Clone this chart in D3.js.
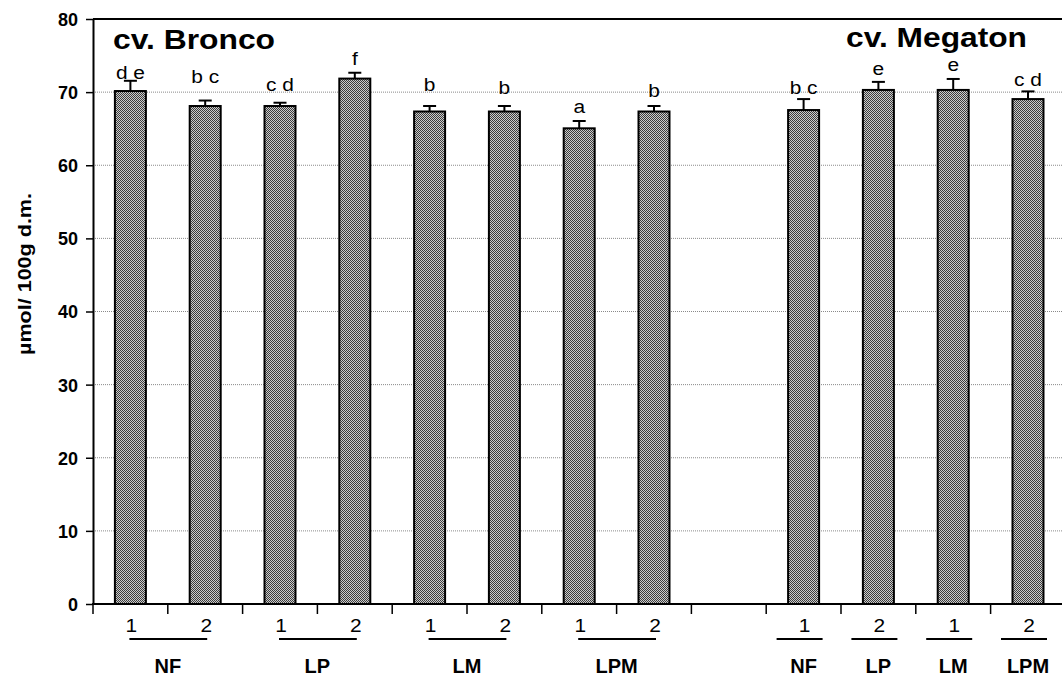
<!DOCTYPE html>
<html>
<head>
<meta charset="utf-8">
<script src="https://cdn.jsdelivr.net/npm/d3@7"></script>
<style>
  html, body { margin: 0; padding: 0; background: #fff; }
  text { font-family: Arial, "Liberation Sans", sans-serif; fill: #000; }
</style>
</head>
<body>
<svg id="chart" width="1062" height="676"></svg>
<script>
// ---------------- data ----------------
const slots     = ["B-NF-1","B-NF-2","B-LP-1","B-LP-2","B-LM-1","B-LM-2","B-LPM-1","B-LPM-2","gap","M-NF-1","M-LP-2","M-LM-1","M-LPM-2"];
const subLabels = ["1","2","1","2","1","2","1","2","","1","2","1","2"];
const means     = [70.15, 68.1, 68.1, 71.85, 67.35, 67.35, 65.05, 67.35, null, 67.55, 70.3, 70.3, 69.05];
const errors    = [1.4, 0.75, 0.45, 0.8, 0.75, 0.75, 1.0, 0.75, null, 1.5, 1.1, 1.5, 1.05];
const letters   = ["d e","b c","c d","f","b","b","a","b","","b c","e","e","c d"];
const letterAt  = [71.8, 71.25, 70.2, 73.7, 70.2, 69.8, 67.1, 69.4, null, 69.8, 72.3, 72.9, 70.9];
const groupNames = ["NF","LP","LM","LPM","NF","LP","LM","LPM"];
const groupSlots = [[0,1],[2,3],[4,5],[6,7],[9],[10],[11],[12]];
const yTicks    = [0,10,20,30,40,50,60,70,80];
const gridTicks = [10,20,30,40,50,60,70];
const titles    = ["cv. Bronco","cv. Megaton"];
const yLabel    = "µmol/ 100g d.m.";

// ---------------- layout ----------------
const W = 1062, H = 676;
const mLeft = 93, mTop = 19, mBottom = 604, slotW = 74.8;
const sx = 1.1; // horizontal text stretch of the original

const svg = d3.select("#chart");
const x = d3.scaleBand().domain(slots).range([mLeft, mLeft + slots.length * slotW]).padding(0);
const y = d3.scaleLinear().domain([0, 80]).range([mBottom, mTop]);
const cx = i => x(slots[i]) + x.bandwidth() / 2;
const barW = 31;

// pattern
const defs = svg.append("defs");
const pat = defs.append("pattern").attr("id", "chk").attr("patternUnits", "userSpaceOnUse")
  .attr("width", 2).attr("height", 2);
pat.append("rect").attr("width", 2).attr("height", 2).attr("fill", "#cccccc");
pat.append("rect").attr("x", 0).attr("y", 0).attr("width", 1).attr("height", 1).attr("fill", "#3c3c3c");
pat.append("rect").attr("x", 1).attr("y", 1).attr("width", 1).attr("height", 1).attr("fill", "#3c3c3c");

function stext(g, str, px, py, opts) {
  return g.append("text")
    .attr("transform", `translate(${px},${py}) scale(${opts.sx || sx},1)`)
    .attr("text-anchor", opts.anchor || "middle")
    .attr("font-size", opts.size)
    .attr("font-weight", opts.weight || "normal")
    .text(str);
}

// gridlines
svg.append("g").selectAll("line").data(gridTicks).join("line")
  .attr("x1", mLeft).attr("x2", W)
  .attr("y1", d => y(d)).attr("y2", d => y(d))
  .attr("stroke", "#8a8a8a").attr("stroke-width", 1).attr("stroke-dasharray", "1,1");

// top frame line
svg.append("line").attr("x1", mLeft).attr("x2", W).attr("y1", y(80)).attr("y2", y(80))
  .attr("stroke", "#000").attr("stroke-width", 2);

// bars
const idx = d3.range(slots.length).filter(i => means[i] != null);
svg.append("g").selectAll("rect").data(idx).join("rect")
  .attr("x", i => cx(i) - barW / 2)
  .attr("width", barW)
  .attr("y", i => y(means[i]))
  .attr("height", i => y(0) - y(means[i]))
  .attr("fill", "url(#chk)")
  .attr("stroke", "#000").attr("stroke-width", 2);

// error bars
const eg = svg.append("g").attr("stroke", "#000").attr("stroke-width", 2);
eg.selectAll("line.v").data(idx).join("line").attr("class", "v")
  .attr("x1", i => cx(i)).attr("x2", i => cx(i))
  .attr("y1", i => y(means[i])).attr("y2", i => y(means[i] + errors[i]));
eg.selectAll("line.c").data(idx).join("line").attr("class", "c")
  .attr("x1", i => cx(i) - 6.5).attr("x2", i => cx(i) + 6.5)
  .attr("y1", i => y(means[i] + errors[i])).attr("y2", i => y(means[i] + errors[i]));

// y axis
const ya = svg.append("g").attr("transform", `translate(${mLeft},0)`)
  .call(d3.axisLeft(y).tickValues(yTicks).tickSize(7).tickSizeOuter(0).tickPadding(8));
ya.select(".domain").attr("stroke-width", 2);
ya.selectAll(".tick line").attr("stroke-width", 1.5);
ya.selectAll(".tick text").attr("font-size", 18).attr("font-weight", "bold")
  .attr("font-family", "Arial, 'Liberation Sans', sans-serif").attr("dy", "0.36em");

// x axis line and boundary ticks
svg.append("line").attr("x1", mLeft - 1).attr("x2", W).attr("y1", mBottom).attr("y2", mBottom)
  .attr("stroke", "#000").attr("stroke-width", 2);
const bounds = slots.map(s => x(s)).concat([x.range()[1]]);
svg.append("g").selectAll("line").data(bounds).join("line")
  .attr("x1", d => d).attr("x2", d => d).attr("y1", mBottom).attr("y2", mBottom + 10)
  .attr("stroke", "#000").attr("stroke-width", 1.5);

// sub labels 1 / 2
const tg = svg.append("g");
idx.forEach(i => stext(tg, subLabels[i], cx(i) + 1, 632, { size: 19 }));

// group underlines and names
groupSlots.forEach((g, k) => {
  const a = cx(g[0]), b = cx(g[g.length - 1]);
  let x1, x2;
  if (g.length > 1) { x1 = a - 1; x2 = b + 2; }
  else { x1 = a - 27; x2 = a + 19; }
  svg.append("line").attr("x1", x1).attr("x2", x2).attr("y1", 639).attr("y2", 639)
    .attr("stroke", "#000").attr("stroke-width", 2);
  stext(tg, groupNames[k], (a + b) / 2, 673, { size: 20, weight: "bold", sx: 1.0 });
});

// significance letters
idx.forEach(i => stext(tg, letters[i], cx(i), y(letterAt[i]), { size: 19 }));

// titles
stext(tg, titles[0], 113, 49, { size: 28, weight: "bold", anchor: "start", sx: 1.0 })
  .attr("textLength", 162).attr("lengthAdjust", "spacingAndGlyphs");
stext(tg, titles[1], 846, 47, { size: 28, weight: "bold", anchor: "start", sx: 1.0 })
  .attr("textLength", 181).attr("lengthAdjust", "spacingAndGlyphs");

// y label
tg.append("text")
  .attr("transform", "translate(31,274) rotate(-90)")
  .attr("text-anchor", "middle")
  .attr("font-size", 18).attr("font-weight", "bold")
  .attr("textLength", 162).attr("lengthAdjust", "spacingAndGlyphs")
  .text(yLabel);
</script>
</body>
</html>
